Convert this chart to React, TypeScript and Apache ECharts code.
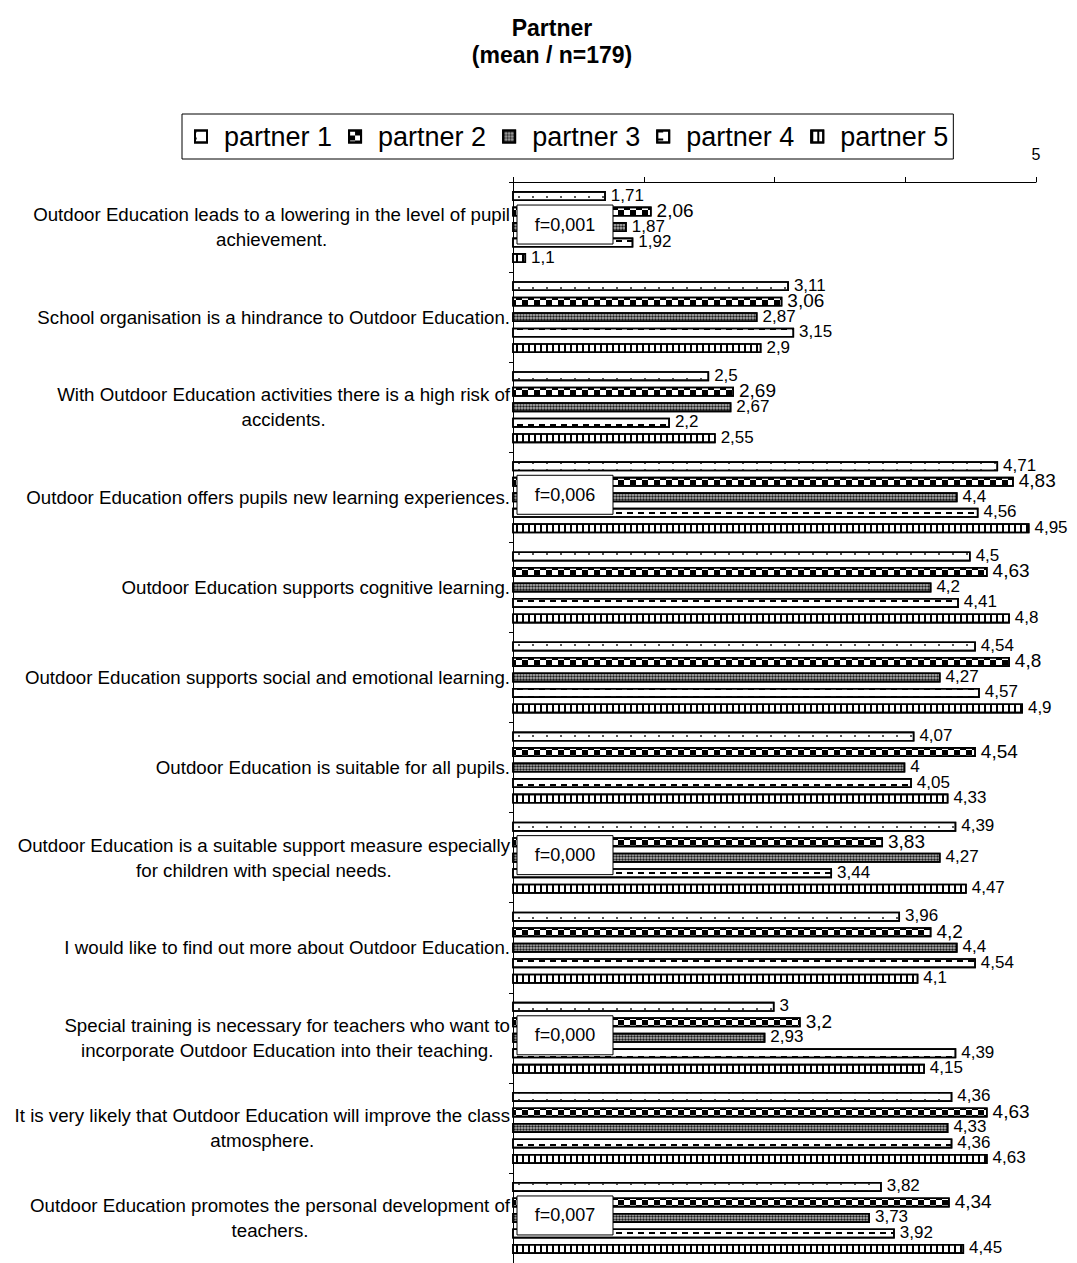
import React, { useEffect, useRef } from 'react';
import * as echarts from 'echarts';

const categories = [
  'Outdoor Education leads to a lowering in the level of pupil\nachievement.',
  'School organisation is a hindrance to Outdoor Education.',
  'With Outdoor Education activities there is a high risk of\naccidents.',
  'Outdoor Education offers pupils new learning experiences.',
  'Outdoor Education supports cognitive learning.',
  'Outdoor Education supports social and emotional learning.',
  'Outdoor Education is suitable for all pupils.',
  'Outdoor Education is a suitable support measure especially\nfor children with special needs.',
  'I would like to find out more about Outdoor Education.',
  'Special training is necessary for teachers who want to\nincorporate Outdoor Education into their teaching.',
  'It is very likely that Outdoor Education will improve the class\natmosphere.',
  'Outdoor Education promotes the personal development of\nteachers.',
];

const seriesNames = ['partner 1', 'partner 2', 'partner 3', 'partner 4', 'partner 5'];

const partner1 = [1.71, 3.11, 2.5, 4.71, 4.5, 4.54, 4.07, 4.39, 3.96, 3, 4.36, 3.82];
const partner2 = [2.06, 3.06, 2.69, 4.83, 4.63, 4.8, 4.54, 3.83, 4.2, 3.2, 4.63, 4.34];
const partner3 = [1.87, 2.87, 2.67, 4.4, 4.2, 4.27, 4, 4.27, 4.4, 2.93, 4.33, 3.73];
const partner4 = [1.92, 3.15, 2.2, 4.56, 4.41, 4.57, 4.05, 3.44, 4.54, 4.39, 4.36, 3.92];
const partner5 = [1.1, 2.9, 2.55, 4.95, 4.8, 4.9, 4.33, 4.47, 4.1, 4.15, 4.63, 4.45];

const fCategoryIndex = [0, 3, 7, 9, 11];
const fTexts = ['f=0,001', 'f=0,006', 'f=0,000', 'f=0,000', 'f=0,007'];

const axisMin = 1;
const axisMax = 5;
const axisInterval = 1;

const titleText = 'Partner\n(mean / n=179)';

const FONT = '"Liberation Sans", Arial, Helvetica, sans-serif';

const fills = ['#ffffff', '#ffffff', '#9a9a9a', '#ffffff', '#ffffff'];
const decals: any[] = [
  { symbol: 'rect', symbolSize: 1, color: '#555', dashArrayX: [1.5, 12], dashArrayY: [1.5, 4.5] },
  { symbol: 'rect', symbolSize: 1, color: '#000', dashArrayX: [[6, 6], [0, 6, 6, 0]], dashArrayY: [5, 0] },
  { symbol: 'diamond', symbolSize: 0.9, color: '#1a1a1a', dashArrayX: [3, 0], dashArrayY: [3, 0] },
  { symbol: 'rect', symbolSize: 1, color: '#000', dashArrayX: [6, 5], dashArrayY: [1.8, 6] },
  { symbol: 'rect', symbolSize: 1, color: '#000', dashArrayX: [1.3, 3.2], dashArrayY: [1, 0] },
];

const partnerData = [partner1, partner2, partner3, partner4, partner5];

export default function App() {
  const ref = useRef<HTMLDivElement>(null);

  useEffect(() => {
    document.body.style.margin = '0';
    if (!ref.current) return;
    const chart = echarts.init(ref.current, undefined, { renderer: 'svg' });

    const option: any = {
      animation: false,
      backgroundColor: '#ffffff',
      textStyle: { fontFamily: FONT },
      title: {
        text: titleText,
        left: 552,
        top: 14,
        padding: 0,
        textAlign: 'center',
        textStyle: { fontSize: 23, fontWeight: 'bold', lineHeight: 27, color: '#000', fontFamily: FONT },
      },
      legend: {
        left: 182,
        top: 114,
        orient: 'horizontal',
        icon: 'rect',
        itemWidth: 12,
        itemHeight: 12,
        itemGap: 16,
        padding: [9, 5, 9, 12],
        borderColor: '#000',
        borderWidth: 1,
        textStyle: { fontSize: 27, color: '#000', fontFamily: FONT, padding: [0, 0, 0, 12] },
        data: seriesNames,
      },
      grid: { left: 513, right: 41, top: 182, bottom: 0, containLabel: false },
      xAxis: {
        type: 'value',
        position: 'top',
        min: axisMin,
        max: axisMax,
        interval: axisInterval,
        axisLine: { show: true, lineStyle: { color: '#000', width: 1 } },
        axisTick: { show: true, length: 5, lineStyle: { color: '#000' } },
        splitLine: { show: false },
        axisLabel: {
          formatter: (v: number) => (v === axisMax ? String(v) : ''),
          fontSize: 16,
          color: '#000',
          margin: 20,
          fontFamily: FONT,
        },
      },
      yAxis: {
        type: 'category',
        data: categories,
        inverse: true,
        axisLine: { show: true, lineStyle: { color: '#000', width: 1 } },
        axisTick: { show: true, length: 4, lineStyle: { color: '#000' } },
        axisLabel: {
          interval: 0,
          margin: 3,
          color: '#000',
          fontSize: 18.7,
          formatter: (v: string) => v.split('\n').map((l) => `{c|${l}}`).join('\n'),
          rich: {
            c: { fontSize: 18.7, lineHeight: 25, align: 'center', color: '#000', fontFamily: FONT },
          },
        },
      },
      series: partnerData.map((d, i) => ({
        name: seriesNames[i],
        type: 'bar',
        data: d,
        barWidth: 10,
        barGap: '55%',
        itemStyle: { color: fills[i], borderColor: '#000', borderWidth: 1.6, decal: decals[i] },
        label: {
          show: true,
          position: 'right',
          distance: 5,
          offset: [0, -1],
          fontSize: i === 1 ? 19 : 17,
          color: '#000',
          fontFamily: FONT,
          formatter: (p: any) => String(p.value).replace('.', ','),
        },
      })),
    };

    chart.setOption(option);

    const x0 = chart.convertToPixel({ xAxisIndex: 0 } as any, axisMin) as unknown as number;
    const graphics = fCategoryIndex.map((ci, k) => {
      const y = chart.convertToPixel({ yAxisIndex: 0 } as any, categories[ci]) as unknown as number;
      return {
        type: 'group',
        x: x0 + 4,
        y: y - 22,
        z: 100,
        children: [
          {
            type: 'rect',
            z: 100,
            shape: { x: 0, y: 0, width: 96, height: 39 },
            style: { fill: '#fff', stroke: '#000', lineWidth: 1 },
          },
          {
            type: 'text',
            z: 101,
            style: { text: fTexts[k], x: 48, y: 19.5, align: 'center', verticalAlign: 'middle', fontSize: 18, fill: '#000', fontFamily: FONT },
          },
        ],
      };
    });
    chart.setOption({ graphic: graphics });

    return () => chart.dispose();
  }, []);

  return <div ref={ref} style={{ width: 1077, height: 1263 }} />;
}
